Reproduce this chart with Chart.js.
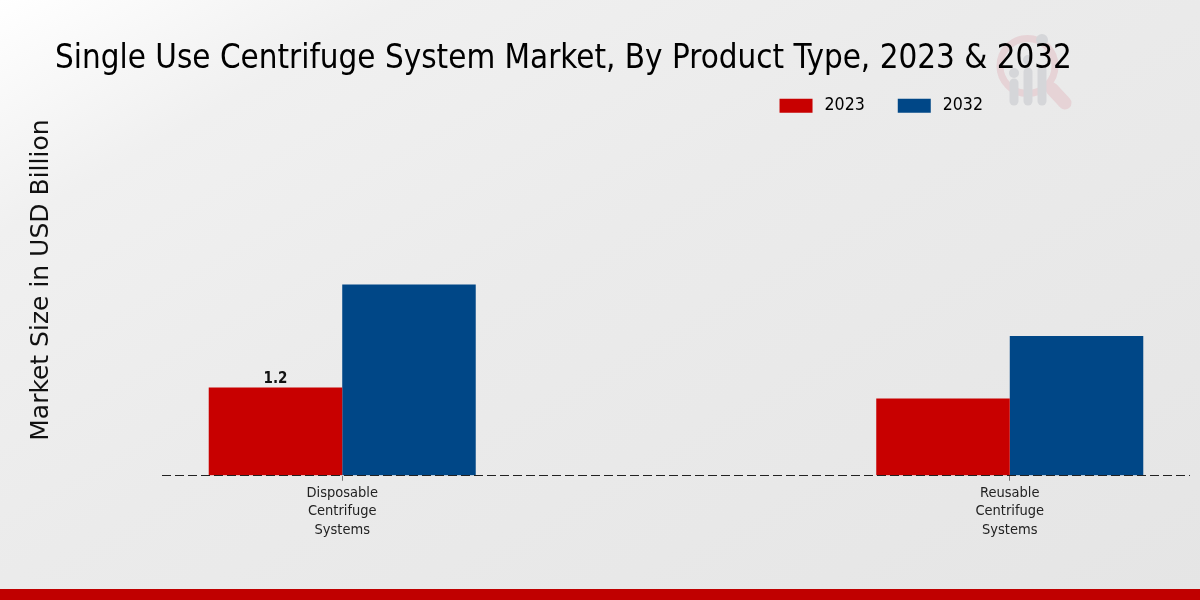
<!DOCTYPE html>
<html>
<head>
<meta charset="utf-8">
<script src="https://cdn.jsdelivr.net/npm/chart.js@4/dist/chart.umd.min.js"></script>
<style>
body { margin: 0; }
#wrap { position: relative; width: 1200px; height: 600px; overflow: hidden;
  background: linear-gradient(150deg, #ffffff 0%, #f0f0f0 18%, #ebebeb 45%, #e5e5e5 100%); }
#logo { position: absolute; left: 990px; top: 25px; }
#band { position: absolute; left: 0; right: 0; top: 589px; height: 11px; background: #c00000; }
canvas { position: absolute; left: 0; top: 0; }
</style>
</head>
<body>
<div id="wrap">
  <svg id="logo" width="90" height="90" viewBox="0 0 90 90">
    <circle cx="37.5" cy="41" r="27.5" fill="none" stroke="#e6d3d6" stroke-width="7"/>
    <line x1="62" y1="64" x2="75" y2="78" stroke="#e6d3d6" stroke-width="13" stroke-linecap="round"/>
    <g stroke="#d5d6d9" stroke-width="9" stroke-linecap="round">
      <line x1="24" y1="58" x2="24" y2="76"/>
      <line x1="38" y1="47" x2="38" y2="76"/>
      <line x1="52" y1="45" x2="52" y2="76"/>
    </g>
    <g fill="#d5d6d9">
      <circle cx="24" cy="48" r="5"/>
      <circle cx="38" cy="35" r="5"/>
      <circle cx="52" cy="15" r="6"/>
    </g>
  </svg>
  <canvas id="chart" width="1200" height="600"></canvas>
  <div id="band"></div>
</div>
<script>
// Values
const categories = [['Disposable', 'Centrifuge', 'Systems'], ['Reusable', 'Centrifuge', 'Systems']];
const positions = [0, 1];
const values2023 = [1.2, 1.05];
const values2032 = [2.6, 1.9];
const shownLabels2023 = ['1.2', null];

const condensed = '"DejaVu Sans Condensed", "DejaVu Sans", sans-serif';

// title and legend sit at fixed spots, not in the layout flow
const placeBlocks = {
    id: 'placeBlocks',
    afterLayout(chart) {
        chart.titleBlock.left = 55;
        chart.titleBlock.right = 1100;
        chart.legend.left = 700;
        chart.legend.right = 1016;
        chart.legend.top = 64;
        chart.legend.bottom = 130;
    }
};

// value on top of the first red bar
const barLabels = {
    id: 'barLabels',
    afterDatasetsDraw(chart) {
        const ctx = chart.ctx;
        chart.getDatasetMeta(0).data.forEach((bar, i) => {
            if (!shownLabels2023[i]) return;
            ctx.save();
            ctx.font = 'bold 15px ' + condensed;
            ctx.fillStyle = '#111111';
            ctx.textAlign = 'center';
            ctx.textBaseline = 'bottom';
            ctx.fillText(shownLabels2023[i], bar.x, bar.y - 1);
            ctx.restore();
        });
    }
};

new Chart(document.getElementById('chart').getContext('2d'), {
    type: 'bar',
    data: {
        datasets: [{
            label: '2023',
            data: positions.map((x, i) => ({ x: x, y: values2023[i] })),
            backgroundColor: '#c80000',
            categoryPercentage: 0.4,
            barPercentage: 1
        }, {
            label: '2032',
            data: positions.map((x, i) => ({ x: x, y: values2032[i] })),
            backgroundColor: '#004787',
            categoryPercentage: 0.4,
            barPercentage: 1
        }]
    },
    options: {
        responsive: false,
        animation: false,
        layout: { padding: { left: 26, right: 10, top: 0, bottom: 58 } },
        plugins: {
            tooltip: { enabled: false },
            title: {
                display: true,
                text: 'Single Use Centrifuge System Market, By Product Type, 2023 & 2032',
                align: 'start',
                color: '#000000',
                font: { family: condensed, size: 32.87, weight: 'normal' },
                padding: { top: 40, bottom: 4 }
            },
            legend: {
                position: 'top',
                align: 'end',
                maxHeight: 1,
                labels: {
                    boxWidth: 33,
                    boxHeight: 14,
                    padding: 33,
                    color: '#000000',
                    font: { family: condensed, size: 17.6 },
                    // thin space widens the gap between swatch and text
                    generateLabels(chart) {
                        return Chart.defaults.plugins.legend.labels.generateLabels(chart)
                            .map(item => ({ ...item, text: '\u2009' + item.text }));
                    }
                }
            }
        },
        scales: {
            x: {
                type: 'linear',
                offset: false,
                min: -0.27,
                max: 1.27,
                afterBuildTicks(scale) { scale.ticks = positions.map(v => ({ value: v })); },
                ticks: {
                    autoSkip: false,
                    maxRotation: 0,
                    color: '#222222',
                    padding: 3,
                    font: { family: condensed, size: 14.5, lineHeight: 1.27 },
                    callback: value => categories[value]
                },
                grid: { offset: false, drawOnChartArea: false, color: '#777777', tickLength: 5 },
                border: { display: false }
            },
            y: {
                min: 0,
                max: 5.32,
                afterFit(scale) { scale.width = 136; },
                afterBuildTicks(scale) { scale.ticks = [{ value: 0 }]; },
                ticks: { display: false },
                // the dashed baseline is the only grid line, above the bars
                grid: { color: '#222222', z: 1, drawTicks: false },
                border: { display: false, dash: [9, 4] },
                title: {
                    display: true,
                    text: 'Market Size in USD Billion',
                    color: '#111111',
                    font: { family: '"DejaVu Sans", sans-serif', size: 25 },
                    padding: 0
                }
            }
        }
    },
    plugins: [placeBlocks, barLabels]
});
</script>
</body>
</html>
